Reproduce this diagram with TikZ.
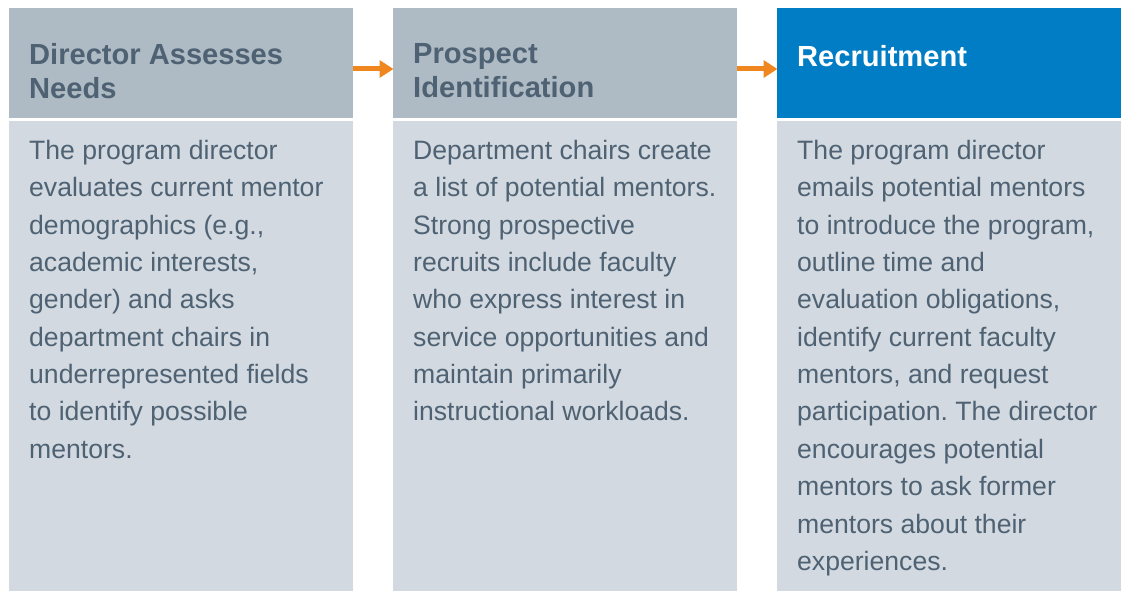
\documentclass[tikz,border=0pt]{standalone}
\usepackage{fontspec}
\setmainfont{Liberation Sans}
\usetikzlibrary{arrows.meta}
\frenchspacing
\definecolor{hdrgray}{HTML}{AEBAC4}
\definecolor{bodygray}{HTML}{D2D9E0}
\definecolor{hdrblue}{HTML}{007DC5}
\definecolor{txtdark}{HTML}{4F6273}
\definecolor{arroworange}{HTML}{F0871E}
\tikzset{
  box/.style={draw=none, inner sep=0pt, outer sep=0pt, anchor=north west, minimum width=344pt},
  hdrbox/.style={box, minimum height=109.5pt},
  bodybox/.style={box, fill=bodygray, minimum height=470pt},
  hdrtext/.style={anchor=north west, inner sep=0pt, align=left, font=\fontsize{29.1}{34}\selectfont\bfseries, text=txtdark},
  bodytext/.style={anchor=north west, inner sep=0pt, align=left, font=\fontsize{26.6}{37.36}\selectfont\frenchspacing, text=txtdark},
  flow/.style={draw=arroworange, line width=5pt, -{Triangle[length=14pt,width=17pt]}, shorten >=-0.5pt}
}
\begin{document}
\begin{tikzpicture}[x=1pt,y=-1pt]
\useasboundingbox (0,0) rectangle (1125,591);
% headers
\node[hdrbox, fill=hdrgray] (h1) at (9,8.5) {};
\node[hdrbox, fill=hdrgray] (h2) at (393,8.5) {};
\node[hdrbox, fill=hdrblue] (h3) at (777,8.5) {};
% bodies
\node[bodybox] (b1) at (9,121) {};
\node[bodybox] (b2) at (393,121) {};
\node[bodybox] (b3) at (777,121) {};
% header texts
\node[hdrtext] (t1) at (29,43.2) {Director Assesses\\Needs};
\node[hdrtext] (t2) at (413,43.2) {Prospect\\Identification};
\node[hdrtext, text=white] (t3) at (797,45) {Recruitment};
% body texts
\node[bodytext] (p1) at (29,140) {The program director\\evaluates current mentor\\demographics (e.g.,\\academic interests,\\gender) and asks\\department chairs in\\underrepresented fields\\to identify possible\\mentors.};
\node[bodytext] (p2) at (413,140) {Department chairs create\\a list of potential mentors.\\Strong prospective\\recruits include faculty\\who express interest in\\service opportunities and\\maintain primarily\\instructional workloads.};
\node[bodytext] (p3) at (797,140) {The program director\\emails potential mentors\\to introduce the program,\\outline time and\\evaluation obligations,\\identify current faculty\\mentors, and request\\participation. The director\\encourages potential\\mentors to ask former\\mentors about their\\experiences.};
% arrows
\draw[flow] (h1.east |- 0,69) -- (h2.west |- 0,69);
\draw[flow] (h2.east |- 0,69) -- (h3.west |- 0,69);
\end{tikzpicture}
\end{document}
